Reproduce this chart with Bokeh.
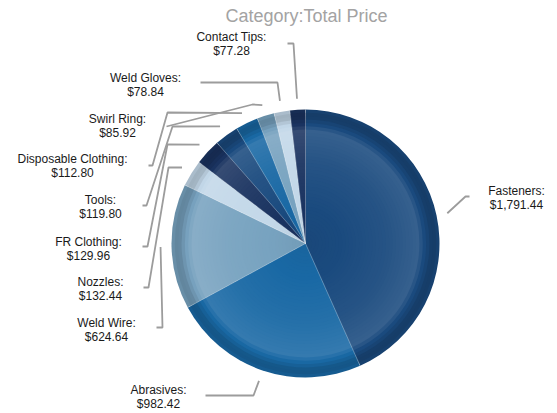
import numpy as np
from bokeh.plotting import figure
from bokeh.models import Range1d, ColumnDataSource
from bokeh.core.properties import value
from bokeh.embed import file_html
from bokeh.resources import INLINE

# ---------------- data ----------------
categories = ["Fasteners", "Abrasives", "Weld Wire", "Nozzles", "FR Clothing",
              "Tools", "Disposable Clothing", "Swirl Ring", "Weld Gloves", "Contact Tips"]
totals = [1791.44, 982.42, 624.64, 132.44, 129.96, 119.80, 112.80, 85.92, 78.84, 77.28]
title_text = "Category:Total Price"

# ---------------- style / layout ----------------
palette = ["#1b4b7f", "#1a69a5", "#78a3c0", "#c3d8e9", "#1b3461"]
W, H = 557, 413          # reference page size (coordinates below are page pixels)
CX, CY, R = 305, 243, 134
LEADER_GAP = 11

# label anchor (centre x, first-line y) in page pixels
label_pos = [(516, 190), (158, 389), (106, 322), (100, 281), (88, 241),
             (100, 199), (72, 158), (117, 118), (145, 77), (231, 36)]
# leader-line bend points after the slice-attached start point
leader_bends = [
    [(465, 196), (469, 196)],
    [(253, 395), (205, 395)],
    [(162, 327), (156, 327)],
    [(168, 167), (148, 287), (143, 287)],
    [(167, 144), (147, 246), (142, 246)],
    [(172, 126), (146, 205), (142, 205)],
    [(167, 112), (152, 165), (148, 165)],
    [(252, 104), (166, 126)],
    [(277, 82), (200, 82)],
    [(293, 43), (287, 43)],
]


def fy(y):
    return H - y


def hex2rgb(h):
    h = h.lstrip("#")
    return np.array([int(h[i:i + 2], 16) for i in (0, 2, 4)], dtype=float)


def shade(h, m):
    c = hex2rgb(h)
    if m >= 0:
        c = c + (255 - c) * m
    else:
        c = c * (1 + m)
    c = np.clip(c, 0, 255).astype(int)
    return "#%02x%02x%02x" % tuple(c)


prof_t = [0.0, 0.6, 0.84, 0.9, 0.95, 1.0]
prof_m = [-0.04, 0.05, 0.12, -0.04, -0.2, -0.1]

vals = np.array(totals)
frac = vals / vals.sum()
c1 = np.cumsum(frac) * 2 * np.pi
c0 = c1 - frac * 2 * np.pi
mid = (c0 + c1) / 2

p = figure(width=W, height=H, output_backend="svg", toolbar_location=None,
           x_range=Range1d(0, W), y_range=Range1d(0, H), min_border=0)
p.axis.visible = False
p.grid.visible = False
p.outline_line_color = None
p.background_fill_color = "white"

# gradient: stacked wedges, largest first so no seams between rings
N = 40
edges = np.linspace(0, R, N + 1)[1:]
ring = dict(x=[], y=[], r=[], sa=[], ea=[], col=[])
for k in range(N - 1, -1, -1):
    t = (edges[k] - R / N / 2) / R
    m = float(np.interp(t, prof_t, prof_m))
    for i in range(len(vals)):
        ring["x"].append(CX)
        ring["y"].append(fy(CY))
        ring["r"].append(edges[k])
        ring["sa"].append(np.pi / 2 - c1[i])
        ring["ea"].append(np.pi / 2 - c0[i])
        ring["col"].append(shade(palette[i % len(palette)], m))
src = ColumnDataSource(ring)
p.wedge(x="x", y="y", radius="r", start_angle="sa", end_angle="ea",
        direction="anticlock", fill_color="col", line_color=None, source=src)

# slice separators
bx = [CX] * len(vals)
by = [fy(CY)] * len(vals)
ex = [CX + R * np.sin(a) for a in c0]
ey = [fy(CY - R * np.cos(a)) for a in c0]
p.segment(x0=bx, y0=by, x1=ex, y1=ey, line_color="white", line_alpha=0.3, line_width=1)

# leader lines
xs, ys = [], []
for i in range(len(vals)):
    sx = CX + (R + LEADER_GAP) * np.sin(mid[i])
    sy = CY - (R + LEADER_GAP) * np.cos(mid[i])
    pts = [(sx, sy)] + leader_bends[i]
    xs.append([q[0] for q in pts])
    ys.append([fy(q[1]) for q in pts])
p.multi_line(xs=xs, ys=ys, line_color="#9c9c9c", line_width=1.8)

# labels
lx, ly, lt = [], [], []
for i, cat in enumerate(categories):
    x0, y0 = label_pos[i]
    lx += [x0, x0]
    ly += [fy(y0), fy(y0 + 14)]
    lt += [cat + ":", "${:,.2f}".format(totals[i])]
p.text(x=lx, y=ly, text=lt, text_font=value("Liberation Sans"), text_font_size="12px",
       text_color="#1a1a1a", text_align="center", text_baseline="middle")

# title
p.text(x=[306], y=[fy(15)], text=[title_text], text_font=value("Liberation Sans"),
       text_font_size="18px", text_color="#a3a3a3", text_align="center",
       text_baseline="middle")

open("out.html", "w").write(file_html(p, INLINE))
